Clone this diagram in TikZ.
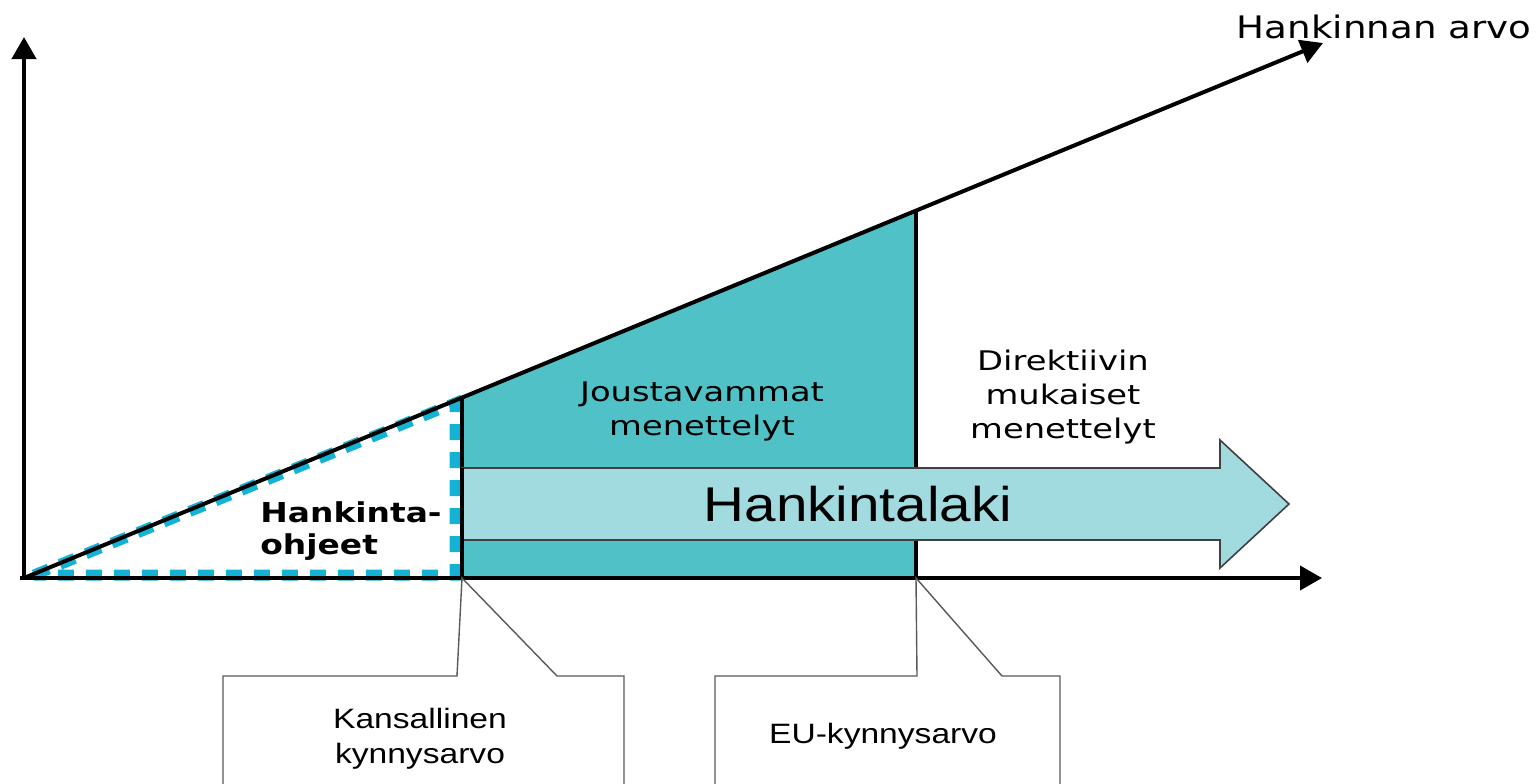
\documentclass[tikz,border=0pt]{standalone}
\usepackage{fontspec}
\setmainfont{DejaVu Sans}
\newfontfamily\phasefont[FakeStretch=1.25]{DejaVu Sans}
\newfontfamily\valuefont[FakeStretch=1.2]{DejaVu Sans}
\newfontfamily\guidefont[FakeStretch=1.2]{DejaVu Sans}
\newfontfamily\lawfont[FakeStretch=1.16]{Liberation Sans}
\newfontfamily\calloutfont[FakeStretch=1.2]{Liberation Sans}
\usetikzlibrary{arrows.meta}

\definecolor{tealfill}{RGB}{80,193,198}
\definecolor{lawfill}{RGB}{161,218,223}
\definecolor{guidecyan}{RGB}{20,178,212}

\begin{document}
\begin{tikzpicture}[
    x=0.5pt, y=-0.5pt,        % 1 unit = 1 px of the sketch
    axis/.style={line width=2pt, -{Triangle[width=12pt,length=11pt]}},
    limit/.style={line width=2pt},
    guide/.style={draw=guidecyan, line width=5.5pt, dash pattern=on 8pt off 6pt},
    lawarrow/.style={fill=lawfill, draw=black!75, line width=0.8pt},
    callout/.style={draw=black!65, line width=0.7pt, fill=white},
    phase/.style={font={\phasefont\fontsize{13.5}{17}\selectfont}, align=center, inner sep=0pt},
    boxtext/.style={font={\calloutfont\fontsize{14}{17.5}\selectfont}, align=center, inner sep=0pt}
  ]

  \useasboundingbox (0,0) rectangle (1538,783);
  \clip (0,0) rectangle (1538,783);

  % --- KEY POINTS ---
  \coordinate (origin)  at (24,578);
  \coordinate (ytip)    at (24,37);
  \coordinate (xstart)  at (20,578);
  \coordinate (xtip)    at (1322,578);
  \coordinate (vtip)    at (1323,43);
  \coordinate (natl)    at (462,578);
  \coordinate (natltop) at (462,397);
  \coordinate (eu)      at (916,578);
  \coordinate (eutop)   at (916,210);

  % --- AREAS ---
  \fill[tealfill] (natltop) -- (eutop) -- (eu) -- (natl) -- cycle;
  \draw[guide] (34,575) -- (455,403) -- (455,575) -- cycle;

  % --- VALUE LINE AND LIMITS ---
  \draw[axis] (origin) -- (vtip);
  \draw[limit] (natl) -- (natltop);
  \draw[limit] (eu) -- (eutop);

  % --- Hankintalaki arrow ---
  \draw[lawarrow] (462,468) -- (1220,468) -- (1220,440) -- (1289,504)
    -- (1220,568) -- (1220,540) -- (462,540) -- cycle;
  \draw[limit] (natl) -- (462,468);

  % --- AXES ---
  \draw[axis] (origin) -- (ytip);
  \draw[axis] (xstart) -- (xtip);

  % --- LABELS ---
  \node[inner sep=0pt, font={\valuefont\fontsize{15.5}{18}\selectfont}] (value) at (1384,27) {Hankinnan arvo};
  \node[phase] (flex) at (702,411) {Joustavammat\\menettelyt};
  \node[phase] (direct) at (1063,397) {Direktiivin\\mukaiset\\menettelyt};
  \node[anchor=west, align=left, inner sep=0pt, font={\guidefont\bfseries\fontsize{13.7}{16}\selectfont}] (guide) at (260,531) {Hankinta-\\ohjeet};
  \node[inner sep=0pt, font={\lawfont\fontsize{24.4}{28}\selectfont}] (law) at (858,504) {Hankintalaki};

  % --- CALLOUTS ---
  \draw[callout] (223,790) |- (457,676) -- (natl) -- (557,676) -| (624,790);
  \draw[callout] (715,790) |- (917,676) -- (eu) -- (1002,676) -| (1060,790);
  \node[boxtext] (natlbox) at (420,739) {Kansallinen\\kynnysarvo};
  \node[boxtext] (eubox) at (883,736) {EU-kynnysarvo};

\end{tikzpicture}
\end{document}
